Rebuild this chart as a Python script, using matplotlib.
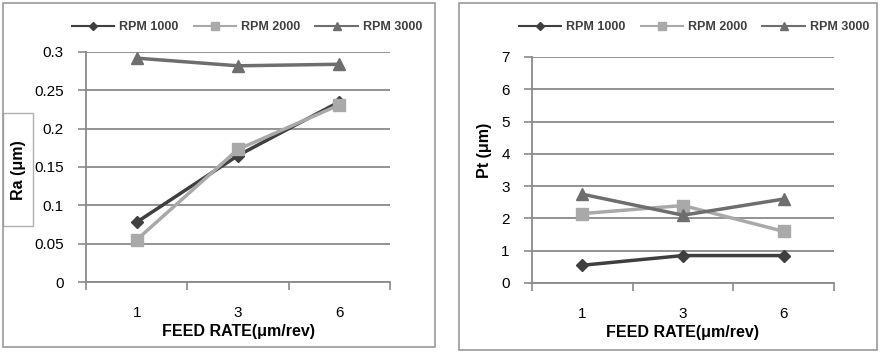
import matplotlib
matplotlib.use("Agg")
import matplotlib.pyplot as plt
from matplotlib.patches import Rectangle
from matplotlib.lines import Line2D

plt.rcParams['font.family'] = ['Liberation Sans', 'DejaVu Sans']

categories = ["1", "3", "6"]
series_names = ["RPM 1000", "RPM 2000", "RPM 3000"]
ra_1000 = [0.078, 0.165, 0.235]
ra_2000 = [0.055, 0.173, 0.231]
ra_3000 = [0.292, 0.282, 0.284]
pt_1000 = [0.55, 0.85, 0.85]
pt_2000 = [2.15, 2.40, 1.60]
pt_3000 = [2.75, 2.10, 2.60]
ra_ticks = [0, 0.05, 0.1, 0.15, 0.2, 0.25, 0.3]
ra_ticklabels = ["0", "0.05", "0.1", "0.15", "0.2", "0.25", "0.3"]
pt_ticks = [0, 1, 2, 3, 4, 5, 6, 7]

colors = ["#3f3f3f", "#a9a9a9", "#6e6e6e"]
markers = ["D", "s", "^"]
msizes = [6, 9, 9]

W, H = 891, 357
fig = plt.figure(figsize=(W / 100, H / 100), dpi=100)
fig.patch.set_facecolor("white")

def fx(px):
    return px / W

def fy(py):
    return 1 - py / H

# panel borders
for (x0, y0, x1, y1) in [(3, 3, 435, 347), (459, 3, 877, 350)]:
    fig.patches.append(Rectangle((fx(x0), fy(y1)), fx(x1 - x0), (y1 - y0) / H,
                                 transform=fig.transFigure, fill=False,
                                 edgecolor="#9a9a9a", linewidth=1.2))

def make_axes(rect_px, data, yticks, yticklabels, ylim, ylabel, label_pos, legend_px):
    l, t, r, b = rect_px
    ax = fig.add_axes([fx(l), fy(b), fx(r - l), (b - t) / H])
    x = range(len(categories))
    for vals, c, m, ms, name in zip(data, colors, markers, msizes, series_names):
        ax.plot(x, vals, color=c, marker=m, markersize=ms, linewidth=2.5,
                label=name, zorder=3, clip_on=False)
    ax.set_xlim(-0.5, len(categories) - 0.5)
    ax.set_ylim(*ylim)
    ax.set_yticks(yticks)
    ax.set_yticklabels(yticklabels)
    ax.set_xticks(list(x))
    ax.set_xticklabels(categories)
    ax.set_xticks([i - 0.5 for i in range(len(categories) + 1)], minor=True)
    ax.tick_params(axis="x", which="major", length=0, pad=17, labelsize=11)
    ax.tick_params(axis="x", which="minor", length=6, color="#8a8a8a", width=1.2)
    ax.tick_params(axis="y", length=6, color="#8a8a8a", width=1.2, pad=10, labelsize=11)
    ax.grid(axis="y", color="#8a8a8a", linewidth=1.3, zorder=0)
    ax.set_axisbelow(True)
    for s in ["top", "right"]:
        ax.spines[s].set_visible(False)
    for s in ["left", "bottom"]:
        ax.spines[s].set_color("#8a8a8a")
        ax.spines[s].set_linewidth(1.3)
    ax.set_xlabel("FEED RATE(μm/rev)", fontweight="bold", fontsize=11.5, labelpad=3)
    fig.text(fx(label_pos[0]), fy(label_pos[1]), ylabel, rotation=90,
             fontweight="bold", fontsize=11.5, ha="center", va="center")
    handles = [Line2D([], [], color=c, marker=m, markersize=ms * 0.7, linewidth=1.5)
               for c, m, ms in zip(colors, markers, msizes)]
    fig.legend(handles, series_names, loc="center", ncol=3, frameon=False,
               bbox_to_anchor=(fx(legend_px[0]), fy(legend_px[1])),
               prop={"size": 9, "weight": "bold"}, labelcolor="#404040",
               handlelength=3.4, columnspacing=1.2, handletextpad=0.4)
    return ax

# Ra label box
fig.patches.append(Rectangle((fx(3), fy(226)), fx(30), (226 - 113) / H,
                             transform=fig.transFigure, facecolor="white",
                             edgecolor="#b0b0b0", linewidth=1.0, zorder=0))

make_axes((86, 52, 390, 282), [ra_1000, ra_2000, ra_3000], ra_ticks, ra_ticklabels,
          (0, 0.3), "Ra (μm)", (19, 170), (247, 27))
make_axes((532, 57, 834, 283), [pt_1000, pt_2000, pt_3000], pt_ticks,
          [str(t) for t in pt_ticks], (0, 7), "Pt (μm)", (484, 150), (694, 27))

fig.savefig("out.png", dpi=100)
